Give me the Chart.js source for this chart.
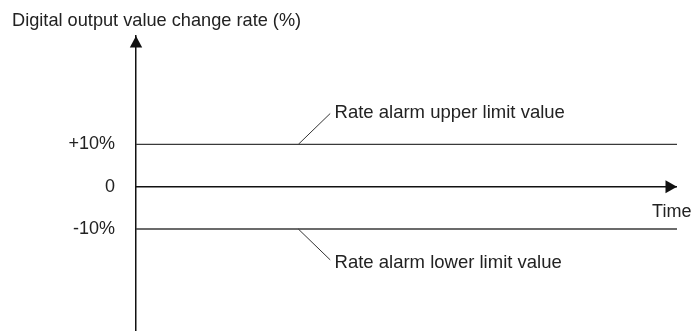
<!DOCTYPE html>
<html>
<head>
<meta charset="utf-8">
<script src="https://cdn.jsdelivr.net/npm/chart.js@4/dist/chart.umd.min.js"></script>
<style>
  html, body { margin: 0; padding: 0; background: #fff; }
  #wrap { width: 694px; height: 331px; }
</style>
</head>
<body>
<div id="wrap"><canvas id="c" width="694" height="331"></canvas></div>
<script>
// ---- data ----
const yTitle = 'Digital output value change rate (%)';
const xTitle = 'Time';
const tickValues = [-10, 0, 10];
const tickLabels = ['-10%', '0', '+10%'];
const timeRange = [0, 100];
const rateRange = [-34.1, 35.6];
const upperLimit = 10;
const lowerLimit = -10;
const upperLeaderX = [30, 35.9];
const upperLeaderY = [10, 17.3];
const lowerLeaderX = [30, 35.9];
const lowerLeaderY = [-10, -17.3];
const upperLabel = 'Rate alarm upper limit value';
const lowerLabel = 'Rate alarm lower limit value';
const upperLabelAt = [36.7, 16.2];
const lowerLabelAt = [36.7, -19.3];
const timeLabelAt = [95.4, -7.1];

const FONT = "'Liberation Sans', Arial, sans-serif";
const TXT = '#222';
Chart.defaults.font.family = FONT;

const seg = (xs, ys) => xs.map((x, i) => ({ x, y: ys[i] }));

const annotate = {
  id: 'annotate',
  afterDatasetsDraw(chart) {
    const { ctx, chartArea: a, scales: { x, y } } = chart;
    ctx.save();
    ctx.fillStyle = '#111';
    // y-axis arrow head
    const x0 = x.getPixelForValue(timeRange[0]);
    ctx.beginPath();
    ctx.moveTo(x0, a.top);
    ctx.lineTo(x0 - 6.2, a.top + 11.5);
    ctx.lineTo(x0 + 6.2, a.top + 11.5);
    ctx.closePath();
    ctx.fill();
    // time-axis arrow head
    const y0 = y.getPixelForValue(0);
    ctx.beginPath();
    ctx.moveTo(a.right, y0);
    ctx.lineTo(a.right - 11.5, y0 - 6.5);
    ctx.lineTo(a.right - 11.5, y0 + 6.5);
    ctx.closePath();
    ctx.fill();
    // texts
    ctx.fillStyle = TXT;
    ctx.font = '18.5px ' + FONT;
    ctx.textAlign = 'left';
    ctx.textBaseline = 'alphabetic';
    ctx.fillText(upperLabel, x.getPixelForValue(upperLabelAt[0]), y.getPixelForValue(upperLabelAt[1]));
    ctx.fillText(lowerLabel, x.getPixelForValue(lowerLabelAt[0]), y.getPixelForValue(lowerLabelAt[1]));
    ctx.font = '18px ' + FONT;
    ctx.fillText(xTitle, x.getPixelForValue(timeLabelAt[0]), y.getPixelForValue(timeLabelAt[1]));
    ctx.restore();
  }
};

new Chart(document.getElementById('c'), {
  type: 'line',
  data: {
    datasets: [
      { data: seg(timeRange, [upperLimit, upperLimit]), borderColor: '#3a3a3a', borderWidth: 1.3 },
      { data: seg(timeRange, [lowerLimit, lowerLimit]), borderColor: '#3a3a3a', borderWidth: 1.3 },
      { data: seg(timeRange, [0, 0]), borderColor: '#111', borderWidth: 1.5 },
      { data: seg(upperLeaderX, upperLeaderY), borderColor: '#333', borderWidth: 1 },
      { data: seg(lowerLeaderX, lowerLeaderY), borderColor: '#333', borderWidth: 1 }
    ]
  },
  options: {
    responsive: false,
    animation: false,
    events: [],
    elements: { point: { radius: 0 }, line: { tension: 0 } },
    layout: { padding: { left: 12, right: 17, top: 0, bottom: 0 } },
    plugins: {
      legend: { display: false },
      tooltip: { enabled: false },
      title: {
        display: true,
        text: yTitle,
        align: 'start',
        color: TXT,
        font: { family: FONT, size: 18.2, weight: 'normal' },
        padding: { top: 10, bottom: 4.2 }
      }
    },
    scales: {
      x: { type: 'linear', min: timeRange[0], max: timeRange[1], display: false },
      y: {
        type: 'linear',
        min: rateRange[0],
        max: rateRange[1],
        grid: { display: false, drawTicks: false },
        border: { display: true, color: '#111', width: 1.5 },
        afterBuildTicks: (s) => { s.ticks = tickValues.map(v => ({ value: v })); },
        afterFit: (s) => { s.width = 124; s.paddingTop = 0; s.paddingBottom = 0; },
        ticks: {
          padding: 21,
          color: TXT,
          font: { family: FONT, size: 18 },
          callback: (v) => tickLabels[tickValues.indexOf(v)]
        }
      }
    }
  },
  plugins: [annotate]
});
</script>
</body>
</html>
